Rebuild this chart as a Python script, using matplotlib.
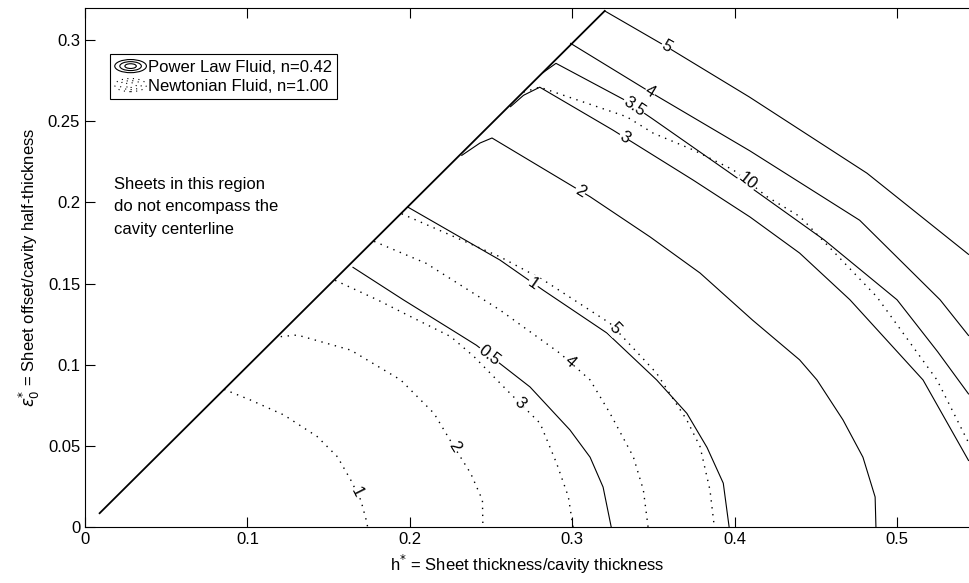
import numpy as np
import matplotlib
matplotlib.use('Agg')
import matplotlib.pyplot as plt
from matplotlib.legend_handler import HandlerBase
from matplotlib.patches import Ellipse

plt.rcParams['font.family'] = ['Liberation Sans', 'DejaVu Sans']
plt.rcParams['font.size'] = 12

# ---- data (h*, eps0*) ----
# boundary line (sheet touches centerline)
diag_x = [0.009, 0.320]
diag_y = [0.0085, 0.318]

# power law fluid, n=0.42 (solid)
pl05_x = [0.165, 0.196, 0.229, 0.241, 0.274, 0.2986, 0.311, 0.319, 0.324]
pl05_y = [0.160, 0.140, 0.1195, 0.112, 0.0863, 0.0598, 0.043, 0.0246, 0.0]
pl1_x = [0.199, 0.2555, 0.282, 0.3214, 0.352, 0.3706, 0.383, 0.393, 0.3966]
pl1_y = [0.197, 0.1645, 0.146, 0.1195, 0.0906, 0.070, 0.049, 0.027, 0.0]
pl2_x = [0.232, 0.2432, 0.2506, 0.311, 0.348, 0.3787, 0.411, 0.440, 0.4507, 0.4667, 0.479, 0.4865, 0.487]
pl2_y = [0.229, 0.2366, 0.2397, 0.2035, 0.1787, 0.1565, 0.1275, 0.103, 0.0906, 0.066, 0.043, 0.0185, 0.0]
pl3_x = [0.262, 0.270, 0.280, 0.325, 0.3744, 0.4095, 0.440, 0.471, 0.516, 0.544]
pl3_y = [0.259, 0.266, 0.271, 0.2446, 0.2138, 0.191, 0.1688, 0.140, 0.0906, 0.041]
pl35_x = [0.282, 0.290, 0.3325, 0.349, 0.4095, 0.455, 0.500, 0.525, 0.544]
pl35_y = [0.280, 0.2857, 0.263, 0.2518, 0.2095, 0.177, 0.140, 0.108, 0.082]
pl4_x = [0.299, 0.348, 0.4095, 0.477, 0.5265, 0.544]
pl4_y = [0.298, 0.268, 0.2317, 0.189, 0.140, 0.118]
pl5_x = [0.320, 0.358, 0.409, 0.4815, 0.544]
pl5_y = [0.318, 0.296, 0.265, 0.218, 0.168]

pl_levels = ['0.5', '1', '2', '3', '3.5', '4', '5']
pl_lab_x = [0.249, 0.276, 0.305, 0.332, 0.338, 0.348, 0.358]
pl_lab_y = [0.1058, 0.150, 0.207, 0.240, 0.259, 0.268, 0.296]

# newtonian fluid, n=1.00 (dotted)
nf1_x = [0.0856, 0.102, 0.1225, 0.143, 0.1554, 0.1636, 0.1698, 0.1735, 0.174]
nf1_y = [0.0848, 0.0782, 0.069, 0.0557, 0.0433, 0.029, 0.0166, 0.003, 0.0]
nf2_x = [0.1205, 0.1307, 0.1636, 0.1944, 0.2149, 0.2272, 0.2375, 0.2447, 0.245]
nf2_y = [0.1173, 0.1183, 0.109, 0.0906, 0.070, 0.0495, 0.033, 0.0166, 0.0]
nf3_x = [0.154, 0.180, 0.1964, 0.2252, 0.2395, 0.2597, 0.2802, 0.2904, 0.2976, 0.3005]
nf3_y = [0.152, 0.140, 0.1317, 0.1173, 0.105, 0.0844, 0.0639, 0.0392, 0.0187, 0.0]
nf4_x = [0.178, 0.210, 0.2555, 0.2925, 0.311, 0.3233, 0.3376, 0.3438, 0.3467]
nf4_y = [0.176, 0.1625, 0.1337, 0.107, 0.0906, 0.070, 0.0433, 0.0228, 0.0]
nf5_x = [0.195, 0.2555, 0.2822, 0.3233, 0.352, 0.3705, 0.3787, 0.3848, 0.3875]
nf5_y = [0.193, 0.1665, 0.1522, 0.1255, 0.0947, 0.066, 0.0495, 0.0228, 0.0]
nf10_x = [0.270, 0.280, 0.3335, 0.350, 0.3746, 0.3992, 0.420, 0.4403, 0.4875, 0.5246, 0.544]
nf10_y = [0.268, 0.271, 0.2528, 0.2426, 0.2323, 0.220, 0.2035, 0.1912, 0.1419, 0.0906, 0.052]

nf_levels = ['1', '2', '3', '4', '5', '10']
nf_lab_x = [0.1675, 0.2272, 0.268, 0.2986, 0.3264, 0.408]
nf_lab_y = [0.0212, 0.0495, 0.0761, 0.1016, 0.1222, 0.213]

x_ticks = [0, 0.1, 0.2, 0.3, 0.4, 0.5]
x_tick_labels = ['0', '0.1', '0.2', '0.3', '0.4', '0.5']
y_ticks = [0, 0.05, 0.1, 0.15, 0.2, 0.25, 0.3]
y_tick_labels = ['0', '0.05', '0.1', '0.15', '0.2', '0.25', '0.3']


class RingHandler(HandlerBase):
    # little contour-style icon for the legend
    def __init__(self, ls, lw):
        super().__init__()
        self.ls = ls
        self.lw = lw

    def create_artists(self, legend, orig_handle, xdescent, ydescent,
                       width, height, fontsize, trans):
        cx = 0.5 * width - xdescent
        cy = 0.5 * height - ydescent
        out = []
        for f in (1.0, 0.68, 0.36):
            out.append(Ellipse((cx, cy), width * f, height * 0.95 * f, fill=False,
                               edgecolor='black', linestyle=self.ls,
                               linewidth=self.lw, transform=trans))
        return out


fig = plt.figure(figsize=(9.69, 5.83), dpi=100)
ax = fig.add_axes([85 / 969, 56 / 583, 884 / 969, 519 / 583])
ax.set_xlim(0, 0.5443)
ax.set_ylim(0, 0.3198)


def draw_set(curves, labels, lab_x, lab_y, **style):
    first = None
    for (xs, ys), lab, lx, ly in zip(curves, labels, lab_x, lab_y):
        ln, = ax.plot(xs, ys, color='black', **style)
        if first is None:
            first = ln
        pts = ax.transData.transform(np.column_stack([xs, ys]))
        p = ax.transData.transform((lx, ly))
        mids = 0.5 * (pts[1:] + pts[:-1])
        i = int(np.argmin(np.hypot(*(mids - p).T)))
        dx, dy = pts[i + 1] - pts[i]
        ang = np.degrees(np.arctan2(dy, dx))
        if ang > 90:
            ang -= 180
        if ang < -90:
            ang += 180
        ax.text(lx, ly, lab, rotation=ang, rotation_mode='anchor',
                ha='center', va='center', fontsize=12, zorder=4,
                bbox=dict(fc='white', ec='none', pad=0.5))
    return first


ax.plot(diag_x, diag_y, color='black', lw=1.3)

pl_curves = [(pl05_x, pl05_y), (pl1_x, pl1_y), (pl2_x, pl2_y), (pl3_x, pl3_y),
             (pl35_x, pl35_y), (pl4_x, pl4_y), (pl5_x, pl5_y)]
nf_curves = [(nf1_x, nf1_y), (nf2_x, nf2_y), (nf3_x, nf3_y), (nf4_x, nf4_y),
             (nf5_x, nf5_y), (nf10_x, nf10_y)]

dot_ls = (0, (1, 4))
h_nf = draw_set(nf_curves, nf_levels, nf_lab_x, nf_lab_y, lw=1.0, linestyle=dot_ls)
h_pl = draw_set(pl_curves, pl_levels, pl_lab_x, pl_lab_y, lw=0.8)

leg = ax.legend([h_pl, h_nf], ['Power Law Fluid, n=0.42', 'Newtonian Fluid, n=1.00'],
                handler_map={h_pl: RingHandler('-', 0.8), h_nf: RingHandler(dot_ls, 0.8)},
                loc='upper left', bbox_to_anchor=(0.028, 0.911), borderaxespad=0,
                fancybox=False, framealpha=1, edgecolor='black', fontsize=12,
                borderpad=0.3, handletextpad=0.1, labelspacing=0.2,
                handlelength=1.9, handleheight=0.9)
leg.get_frame().set_linewidth(0.8)

ax.text(0.018, 0.2155, 'Sheets in this region\ndo not encompass the\ncavity centerline',
        ha='left', va='top', fontsize=12, linespacing=1.6)

ax.set_xticks(x_ticks)
ax.set_xticklabels(x_tick_labels)
ax.set_yticks(y_ticks)
ax.set_yticklabels(y_tick_labels)
ax.tick_params(direction='in', top=True, right=False, length=7, width=0.8, labelsize=12)
ax.spines['right'].set_visible(False)
for s in ['left', 'bottom', 'top']:
    ax.spines[s].set_linewidth(0.8)

ax.set_xlabel(r'h$^{*}$ = Sheet thickness/cavity thickness', fontsize=12)
ax.set_ylabel(r'$\epsilon_0^{*}$ = Sheet offset/cavity half-thickness', fontsize=12)

fig.savefig('out.png', dpi=100)
